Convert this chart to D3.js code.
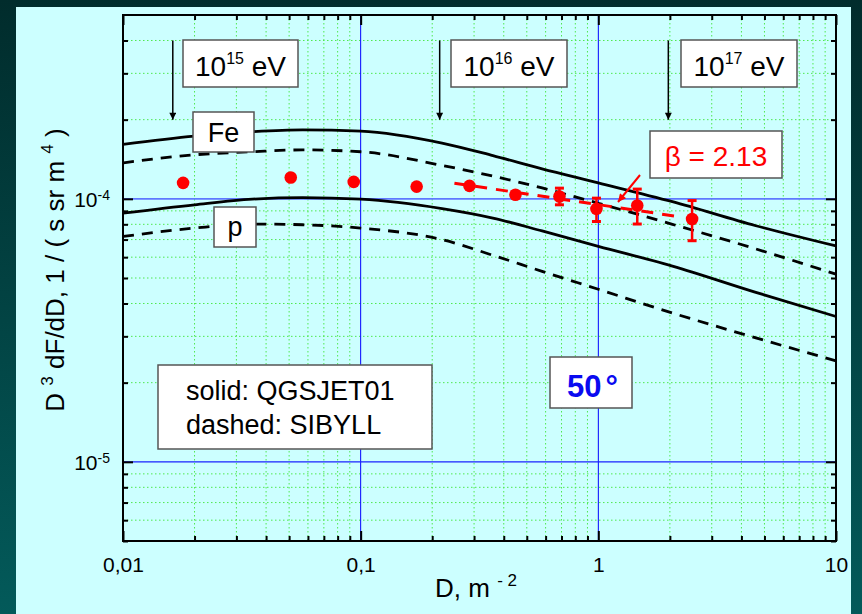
<!DOCTYPE html>
<html><head><meta charset="utf-8">
<script src="https://cdn.jsdelivr.net/npm/d3@7"></script>
<style>
body{margin:0;background:#003333}
svg{display:block}
text{font-family:"Liberation Sans",Arial,Helvetica,sans-serif;fill:#000}
</style>
</head><body>
<svg id="chart" width="862" height="614"></svg>
<script>
// ---------------- data ----------------
const xMajor = [0.01, 0.1, 1, 10];
const xTickLabels = ["0,01", "0,1", "1", "10"];
const yMajor = [1e-5, 1e-4];
const yTickExponents = ["-5", "-4"];

// model curves (D in m^-2, value of D^3 dF/dD)
const curveD = [0.01, 0.02, 0.035, 0.057, 0.1, 0.22, 0.36, 0.58, 1, 2.05, 4.6, 10];
const feQGSJET = [1.61e-4, 1.73e-4, 1.80e-4, 1.83e-4, 1.81e-4, 1.63e-4, 1.46e-4, 1.30e-4, 1.15e-4, 0.975e-4, 0.79e-4, 0.662e-4];
const feSIBYLL = [1.37e-4, 1.47e-4, 1.51e-4, 1.535e-4, 1.51e-4, 1.34e-4, 1.22e-4, 1.10e-4, 0.962e-4, 0.80e-4, 0.645e-4, 0.517e-4];
const pQGSJET  = [0.882e-4, 0.949e-4, 0.997e-4, 1.011e-4, 0.997e-4, 0.918e-4, 0.845e-4, 0.755e-4, 0.66e-4, 0.555e-4, 0.441e-4, 0.357e-4];
const pSIBYLL  = [0.719e-4, 0.774e-4, 0.802e-4, 0.797e-4, 0.774e-4, 0.700e-4, 0.610e-4, 0.530e-4, 0.453e-4, 0.368e-4, 0.296e-4, 0.242e-4];

// measured points
const pointD   = [0.0179, 0.0508, 0.0935, 0.172, 0.287, 0.448, 0.686, 0.982, 1.458, 2.48];
const pointV   = [1.15e-4, 1.205e-4, 1.16e-4, 1.113e-4, 1.12e-4, 1.036e-4, 1.02e-4, 0.916e-4, 0.943e-4, 0.838e-4];
const pointLo  = [null, null, null, null, null, null, 0.949e-4, 0.82e-4, 0.802e-4, 0.693e-4];
const pointHi  = [null, null, null, null, null, null, 1.098e-4, 1.006e-4, 1.089e-4, 0.985e-4];

// power-law fit (beta = 2.13)
const fitD = [0.248, 2.19];
const fitV = [1.147e-4, 0.855e-4];

// energy arrows
const arrowD = [0.0162, 0.215, 1.97];
const arrowFrom = 4e-4, arrowTo = 2e-4;
const energyExp = ["15", "16", "17"];

// ---------------- layout ----------------
const svg = d3.select("#chart");
const W = 862, H = 614;
const plot = {left: 123, right: 836, top: 15, bottom: 541};

const defs = svg.append("defs");
const grad = defs.append("linearGradient").attr("id", "bg").attr("x1", 0).attr("y1", 0).attr("x2", 0).attr("y2", 1);
grad.append("stop").attr("offset", "0%").attr("stop-color", "#012c2c");
grad.append("stop").attr("offset", "100%").attr("stop-color", "#035a5a");
svg.append("rect").attr("width", W).attr("height", H).attr("fill", "url(#bg)");
svg.append("rect").attr("x", 16).attr("y", 7).attr("width", 835).attr("height", H - 7).attr("fill", "#ccffff");

const x = d3.scaleLog().domain([0.01, 10]).range([plot.left, plot.right]);
const y = d3.scaleLog().domain([5e-6, 5e-4]).range([plot.bottom, plot.top]);

// minor tick values
const xMinor = [];
[0.01, 0.1, 1].forEach(b => { for (let k = 2; k <= 9; k++) xMinor.push(b * k); });
const yMinor = [];
[5e-6, 6e-6, 7e-6, 8e-6, 9e-6].forEach(v => yMinor.push(v));
[1e-5].forEach(b => { for (let k = 2; k <= 9; k++) yMinor.push(b * k); });
[2e-4, 3e-4, 4e-4].forEach(v => yMinor.push(v));

// ---------------- grid ----------------
const grid = svg.append("g");
grid.selectAll(".gx").data(xMinor).join("line")
  .attr("x1", d => x(d)).attr("x2", d => x(d))
  .attr("y1", plot.top).attr("y2", plot.bottom)
  .attr("stroke", "#4fe84f").attr("stroke-width", 1).attr("stroke-dasharray", "1.5,2.5");
grid.selectAll(".gy").data(yMinor.filter(v => v > 5e-6)).join("line")
  .attr("x1", plot.left).attr("x2", plot.right)
  .attr("y1", d => y(d)).attr("y2", d => y(d))
  .attr("stroke", "#4fe84f").attr("stroke-width", 1).attr("stroke-dasharray", "1.5,2.5");
grid.selectAll(".bx").data([0.1, 1]).join("line")
  .attr("x1", d => x(d)).attr("x2", d => x(d))
  .attr("y1", plot.top).attr("y2", plot.bottom)
  .attr("stroke", "#0000ff").attr("stroke-width", 1);
grid.selectAll(".by").data(yMajor).join("line")
  .attr("x1", plot.left).attr("x2", plot.right)
  .attr("y1", d => y(d)).attr("y2", d => y(d))
  .attr("stroke", d => d === 1e-4 ? "#5f78ff" : "#1a22ff")
  .attr("stroke-width", d => d === 1e-4 ? 1.7 : 1.1);

// ---------------- curves ----------------
const line = d3.line().x(d => x(d[0])).y(d => y(d[1])).curve(d3.curveMonotoneX);
const curves = [
  {v: feQGSJET, dash: null},
  {v: feSIBYLL, dash: "11,8"},
  {v: pQGSJET, dash: null},
  {v: pSIBYLL, dash: "11,8"}
];
curves.forEach(c => {
  svg.append("path").datum(curveD.map((d, i) => [d, c.v[i]]))
    .attr("d", line).attr("fill", "none").attr("stroke", "#000")
    .attr("stroke-width", 2.8).attr("stroke-dasharray", c.dash);
});

// ---------------- fit line ----------------
svg.append("path").datum(fitD.map((d, i) => [d, fitV[i]]))
  .attr("d", d3.line().x(d => x(d[0])).y(d => y(d[1])))
  .attr("fill", "none").attr("stroke", "#ff0000").attr("stroke-width", 3)
  .attr("stroke-dasharray", "12,9");

// ---------------- points + error bars ----------------
const pts = pointD.map((d, i) => ({d, v: pointV[i], lo: pointLo[i], hi: pointHi[i]}));
const eb = svg.append("g").attr("stroke", "#ff0000");
pts.filter(p => p.lo !== null).forEach(p => {
  eb.append("line").attr("x1", x(p.d)).attr("x2", x(p.d)).attr("y1", y(p.lo)).attr("y2", y(p.hi)).attr("stroke-width", 2.5);
  eb.append("line").attr("x1", x(p.d) - 4.5).attr("x2", x(p.d) + 4.5).attr("y1", y(p.lo)).attr("y2", y(p.lo)).attr("stroke-width", 3);
  eb.append("line").attr("x1", x(p.d) - 4.5).attr("x2", x(p.d) + 4.5).attr("y1", y(p.hi)).attr("y2", y(p.hi)).attr("stroke-width", 3);
});
svg.append("g").selectAll("circle").data(pts).join("circle")
  .attr("cx", p => x(p.d)).attr("cy", p => y(p.v)).attr("r", 6.3).attr("fill", "#ff0000");

// ---------------- axes ----------------
function styleAxis(g) {
  g.select(".domain").remove();
  g.selectAll(".tick line").attr("stroke", "#000").attr("stroke-width", 2);
}
svg.append("g").attr("transform", `translate(0,${plot.bottom})`)
  .call(d3.axisBottom(x).tickValues(xMinor).tickSize(-5).tickFormat(""))
  .call(styleAxis);
const xb = svg.append("g").attr("transform", `translate(0,${plot.bottom})`)
  .call(d3.axisBottom(x).tickValues(xMajor).tickSizeInner(-10).tickSizeOuter(0).tickPadding(16)
        .tickFormat((d, i) => xTickLabels[i]))
  .call(styleAxis);
xb.selectAll("text").attr("font-size", 21).attr("fill", "#000")
  .style("font-family", '"Liberation Sans", Arial, sans-serif');

svg.append("g").attr("transform", `translate(0,${plot.top})`)
  .call(d3.axisTop(x).tickValues(xMinor).tickSize(-5).tickFormat("")).call(styleAxis);
svg.append("g").attr("transform", `translate(0,${plot.top})`)
  .call(d3.axisTop(x).tickValues(xMajor).tickSize(-10).tickFormat("")).call(styleAxis);

svg.append("g").attr("transform", `translate(${plot.left},0)`)
  .call(d3.axisLeft(y).tickValues(yMinor).tickSize(-5).tickFormat("")).call(styleAxis);
const yl = svg.append("g").attr("transform", `translate(${plot.left},0)`)
  .call(d3.axisLeft(y).tickValues(yMajor).tickSizeInner(-10).tickSizeOuter(0).tickPadding(13).tickFormat(""))
  .call(styleAxis);
yl.selectAll(".tick text").each(function(d, i) {
  const t = d3.select(this).attr("font-size", 21).attr("fill", "#000").attr("dy", "0.38em")
    .style("font-family", '"Liberation Sans", Arial, sans-serif');
  t.text(null);
  t.append("tspan").text("10");
  t.append("tspan").attr("dy", "-0.5em").attr("font-size", 14).text(yTickExponents[i]);
});
svg.append("g").attr("transform", `translate(${plot.right},0)`)
  .call(d3.axisRight(y).tickValues(yMinor).tickSize(-5).tickFormat("")).call(styleAxis);
svg.append("g").attr("transform", `translate(${plot.right},0)`)
  .call(d3.axisRight(y).tickValues(yMajor).tickSize(-10).tickFormat("")).call(styleAxis);

// frame
svg.append("rect").attr("x", plot.left).attr("y", plot.top)
  .attr("width", plot.right - plot.left).attr("height", plot.bottom - plot.top)
  .attr("fill", "none").attr("stroke", "#000").attr("stroke-width", 2);

// ---------------- axis titles ----------------
const xt = svg.append("text").attr("x", 476).attr("y", 597).attr("text-anchor", "middle").attr("font-size", 26);
xt.append("tspan").text("D, m ");
xt.append("tspan").attr("dy", -11).attr("font-size", 17).text("- 2");

const yt = svg.append("text").attr("transform", "translate(64,270) rotate(-90)")
  .attr("text-anchor", "middle").attr("font-size", 26);
yt.append("tspan").text("D ");
yt.append("tspan").attr("dy", -11).attr("font-size", 17).text("3");
yt.append("tspan").attr("dy", 11).text(" dF/dD, 1 / ( s sr m ");
yt.append("tspan").attr("dy", -11).attr("font-size", 17).text("4");
yt.append("tspan").attr("dy", 11).text(" )");

// ---------------- arrows ----------------
defs.append("marker").attr("id", "ahk").attr("viewBox", "0 0 10 10").attr("refX", 10).attr("refY", 5)
  .attr("markerWidth", 15).attr("markerHeight", 7).attr("markerUnits", "userSpaceOnUse").attr("orient", "auto")
  .append("path").attr("d", "M0,0 L10,5 L0,10 Z").attr("fill", "#000");
svg.selectAll(".earrow").data(arrowD).join("line")
  .attr("x1", d => x(d)).attr("x2", d => x(d))
  .attr("y1", y(arrowFrom)).attr("y2", y(arrowTo))
  .attr("stroke", "#000").attr("stroke-width", 1.5).attr("marker-end", "url(#ahk)");

// ---------------- boxes ----------------
function box(x0, y0, x1, y1) {
  svg.append("rect").attr("x", x0).attr("y", y0).attr("width", x1 - x0).attr("height", y1 - y0)
    .attr("fill", "#fff").attr("stroke", "#555").attr("stroke-width", 1.5);
}
const energyBoxes = [[183, 298], [451, 567], [681, 797]];
energyBoxes.forEach((b, i) => {
  box(b[0], 40, b[1], 87);
  const t = svg.append("text").attr("x", (b[0] + b[1]) / 2).attr("y", 76)
    .attr("text-anchor", "middle").attr("font-size", 28);
  t.append("tspan").text("10");
  t.append("tspan").attr("dy", -12).attr("font-size", 16).text(energyExp[i]);
  t.append("tspan").attr("dy", 12).text(" eV");
});

box(193, 112, 254, 152);
svg.append("text").attr("x", 223.5).attr("y", 142).attr("text-anchor", "middle").attr("font-size", 27).text("Fe");
box(214, 207, 256, 247);
svg.append("text").attr("x", 235).attr("y", 236).attr("text-anchor", "middle").attr("font-size", 27).text("p");

box(650, 131, 782, 178);
svg.append("text").attr("x", 716).attr("y", 166).attr("text-anchor", "middle").attr("font-size", 28)
  .style("fill", "#ff0000").text("β = 2.13");

box(158, 365, 432, 449);
svg.append("text").attr("x", 186).attr("y", 400).attr("font-size", 27).text("solid: QGSJET01");
svg.append("text").attr("x", 186).attr("y", 434).attr("font-size", 27).text("dashed: SIBYLL");

box(550, 357, 632, 408);
const ang = svg.append("text").attr("x", 567).attr("y", 397).attr("font-size", 31)
  .attr("font-weight", "bold").style("fill", "#0a0af0");
ang.append("tspan").text("50");
ang.append("tspan").attr("dx", 4).text("°");

// red arrow pointing to fit line
defs.append("marker").attr("id", "ahr").attr("viewBox", "0 0 10 10").attr("refX", 10).attr("refY", 5)
  .attr("markerWidth", 12).attr("markerHeight", 8).attr("markerUnits", "userSpaceOnUse").attr("orient", "auto")
  .append("path").attr("d", "M0,0 L10,5 L0,10 Z").attr("fill", "#ff0000");
svg.append("line").attr("x1", 640).attr("y1", 175).attr("x2", 618).attr("y2", 202)
  .attr("stroke", "#ff0000").attr("stroke-width", 2).attr("marker-end", "url(#ahr)");
</script>
</body></html>
